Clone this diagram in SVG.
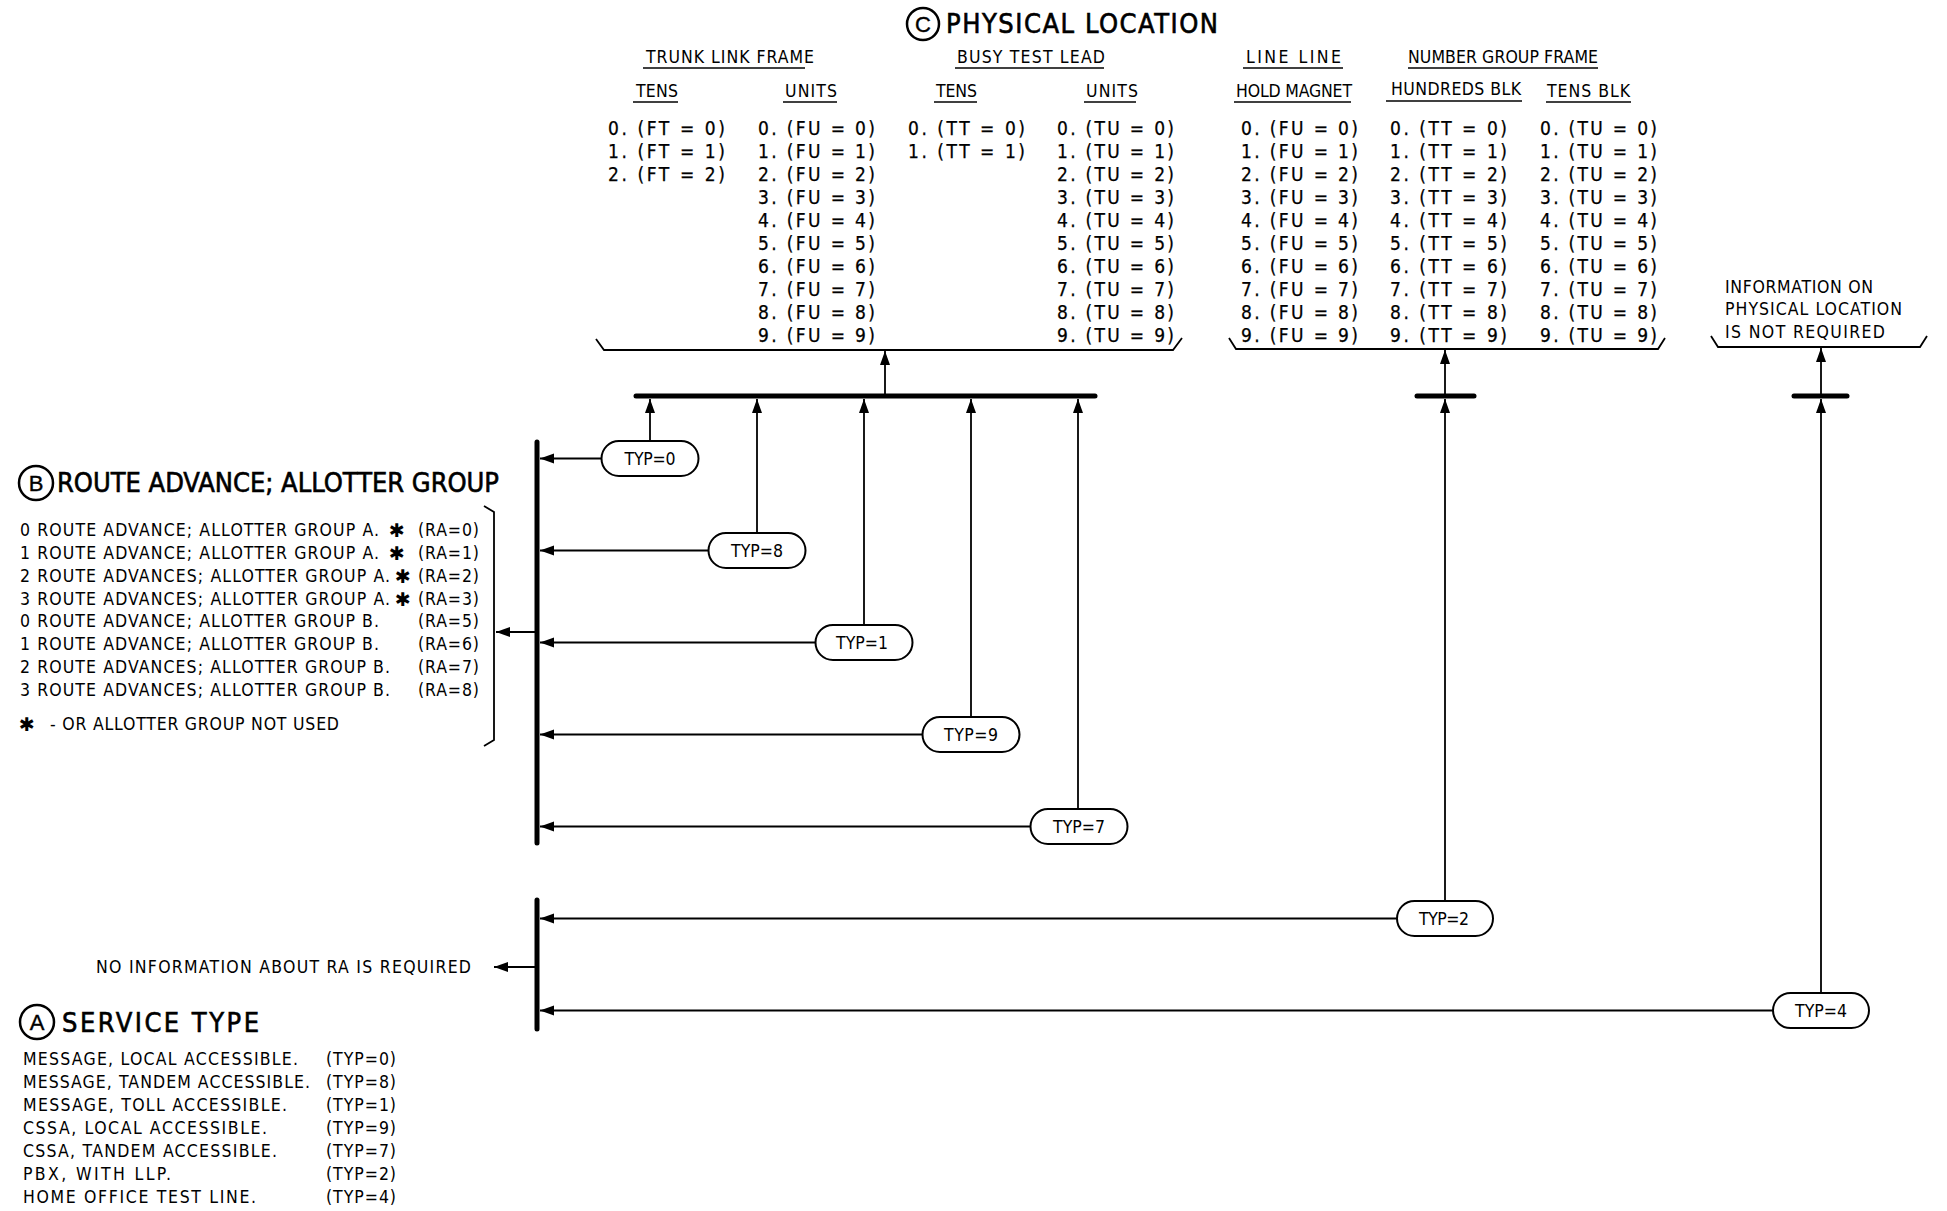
<svg xmlns="http://www.w3.org/2000/svg" width="1947" height="1211" viewBox="0 0 1947 1211">
<style>
text { font-family: "Liberation Sans Narrow", "DejaVu Sans Condensed", "Liberation Sans", Arial, sans-serif; fill: #000; }
.s { font-size: 17.5px; }
.l { font-size: 19px; stroke: #000; stroke-width: 0.25; }
.h { font-size: 27px; stroke: #000; stroke-width: 0.6; }
.cl { font-size: 22px; stroke: #000; stroke-width: 0.4; text-anchor: middle; font-family: "Liberation Sans", Arial, sans-serif; }
.ast { font-family: "DejaVu Sans", sans-serif; font-size: 19px; text-anchor: middle; }
.n rect { fill: #fff; stroke: #000; stroke-width: 2; }
.n text { font-size: 17.5px; text-anchor: middle; }
.c { stroke: #000; stroke-width: 1.8; fill: none; }
.bar { stroke: #000; stroke-width: 5; stroke-linecap: round; fill: none; }
.ul { stroke: #000; stroke-width: 1.6; }
.circ { fill: none; stroke: #000; stroke-width: 2.5; }
</style>
<defs>
<marker id="ah" markerUnits="userSpaceOnUse" markerWidth="15" markerHeight="11" refX="14" refY="5" orient="auto">
<path d="M0,0 L14,5 L0,10 z" fill="#000"/>
</marker>
</defs>
<rect width="1947" height="1211" fill="#fff"/>

<!-- C heading -->
<g id="physical-location">
<circle class="circ" cx="923" cy="24" r="16"/>
<text class="cl" x="923" y="32">C</text>
<text class="h" x="946" y="33" textLength="272">PHYSICAL LOCATION</text>
<g class="s">
<text x="646" y="63" textLength="168">TRUNK LINK FRAME</text>
<text x="957" y="63" textLength="148">BUSY TEST LEAD</text>
<text x="1246" y="63" textLength="95">LINE LINE</text>
<text x="1408" y="63" textLength="190">NUMBER GROUP FRAME</text>
<text x="636" y="97" textLength="42">TENS</text>
<text x="785" y="97" textLength="52">UNITS</text>
<text x="936" y="97" textLength="41">TENS</text>
<text x="1086" y="97" textLength="52">UNITS</text>
<text x="1236" y="97" textLength="116">HOLD MAGNET</text>
<text x="1391" y="95" textLength="130">HUNDREDS BLK</text>
<text x="1547" y="97" textLength="83">TENS BLK</text>
</g>
<g class="ul">
<line x1="643" y1="68" x2="805" y2="68"/>
<line x1="955" y1="68" x2="1104" y2="68"/>
<line x1="1243" y1="68" x2="1343" y2="68"/>
<line x1="1408" y1="68" x2="1598" y2="68"/>
<line x1="633" y1="102" x2="678" y2="102"/>
<line x1="783" y1="102" x2="837" y2="102"/>
<line x1="934" y1="102" x2="977" y2="102"/>
<line x1="1084" y1="102" x2="1136" y2="102"/>
<line x1="1234" y1="102" x2="1351" y2="102"/>
<line x1="1386" y1="101" x2="1522" y2="101"/>
<line x1="1546" y1="102" x2="1631" y2="102"/>
</g>
<g class="l">
<text x="608" y="134.5" textLength="117">0. (FT = 0)</text>
<text x="608" y="157.5" textLength="117">1. (FT = 1)</text>
<text x="608" y="180.5" textLength="117">2. (FT = 2)</text>

<text x="758" y="134.5" textLength="117">0. (FU = 0)</text>
<text x="758" y="157.5" textLength="117">1. (FU = 1)</text>
<text x="758" y="180.5" textLength="117">2. (FU = 2)</text>
<text x="758" y="203.5" textLength="117">3. (FU = 3)</text>
<text x="758" y="226.5" textLength="117">4. (FU = 4)</text>
<text x="758" y="249.5" textLength="117">5. (FU = 5)</text>
<text x="758" y="272.5" textLength="117">6. (FU = 6)</text>
<text x="758" y="295.5" textLength="117">7. (FU = 7)</text>
<text x="758" y="318.5" textLength="117">8. (FU = 8)</text>
<text x="758" y="341.5" textLength="117">9. (FU = 9)</text>

<text x="908" y="134.5" textLength="117">0. (TT = 0)</text>
<text x="908" y="157.5" textLength="117">1. (TT = 1)</text>

<text x="1057" y="134.5" textLength="117">0. (TU = 0)</text>
<text x="1057" y="157.5" textLength="117">1. (TU = 1)</text>
<text x="1057" y="180.5" textLength="117">2. (TU = 2)</text>
<text x="1057" y="203.5" textLength="117">3. (TU = 3)</text>
<text x="1057" y="226.5" textLength="117">4. (TU = 4)</text>
<text x="1057" y="249.5" textLength="117">5. (TU = 5)</text>
<text x="1057" y="272.5" textLength="117">6. (TU = 6)</text>
<text x="1057" y="295.5" textLength="117">7. (TU = 7)</text>
<text x="1057" y="318.5" textLength="117">8. (TU = 8)</text>
<text x="1057" y="341.5" textLength="117">9. (TU = 9)</text>

<text x="1241" y="134.5" textLength="117">0. (FU = 0)</text>
<text x="1241" y="157.5" textLength="117">1. (FU = 1)</text>
<text x="1241" y="180.5" textLength="117">2. (FU = 2)</text>
<text x="1241" y="203.5" textLength="117">3. (FU = 3)</text>
<text x="1241" y="226.5" textLength="117">4. (FU = 4)</text>
<text x="1241" y="249.5" textLength="117">5. (FU = 5)</text>
<text x="1241" y="272.5" textLength="117">6. (FU = 6)</text>
<text x="1241" y="295.5" textLength="117">7. (FU = 7)</text>
<text x="1241" y="318.5" textLength="117">8. (FU = 8)</text>
<text x="1241" y="341.5" textLength="117">9. (FU = 9)</text>

<text x="1390" y="134.5" textLength="117">0. (TT = 0)</text>
<text x="1390" y="157.5" textLength="117">1. (TT = 1)</text>
<text x="1390" y="180.5" textLength="117">2. (TT = 2)</text>
<text x="1390" y="203.5" textLength="117">3. (TT = 3)</text>
<text x="1390" y="226.5" textLength="117">4. (TT = 4)</text>
<text x="1390" y="249.5" textLength="117">5. (TT = 5)</text>
<text x="1390" y="272.5" textLength="117">6. (TT = 6)</text>
<text x="1390" y="295.5" textLength="117">7. (TT = 7)</text>
<text x="1390" y="318.5" textLength="117">8. (TT = 8)</text>
<text x="1390" y="341.5" textLength="117">9. (TT = 9)</text>

<text x="1540" y="134.5" textLength="117">0. (TU = 0)</text>
<text x="1540" y="157.5" textLength="117">1. (TU = 1)</text>
<text x="1540" y="180.5" textLength="117">2. (TU = 2)</text>
<text x="1540" y="203.5" textLength="117">3. (TU = 3)</text>
<text x="1540" y="226.5" textLength="117">4. (TU = 4)</text>
<text x="1540" y="249.5" textLength="117">5. (TU = 5)</text>
<text x="1540" y="272.5" textLength="117">6. (TU = 6)</text>
<text x="1540" y="295.5" textLength="117">7. (TU = 7)</text>
<text x="1540" y="318.5" textLength="117">8. (TU = 8)</text>
<text x="1540" y="341.5" textLength="117">9. (TU = 9)</text>
</g>
<g class="s">
<text x="1725" y="293" textLength="148">INFORMATION ON</text>
<text x="1725" y="315" textLength="177">PHYSICAL LOCATION</text>
<text x="1725" y="338" textLength="160">IS NOT REQUIRED</text>
</g>
<path class="c" d="M596,339 L604,350 L1173,350 L1182,338"/>
<path class="c" d="M1229,338 L1236,349 L1658,349 L1665,338"/>
<path class="c" d="M1711,336 L1718,347 L1920,347 L1927,336"/>
</g>

<!-- B heading -->
<g id="route-advance">
<circle class="circ" cx="36" cy="483" r="17"/>
<text class="cl" x="36" y="491">B</text>
<text class="h" x="57" y="492" textLength="442">ROUTE ADVANCE; ALLOTTER GROUP</text>
<g class="s">
<text x="20" y="536" textLength="359">0 ROUTE ADVANCE; ALLOTTER GROUP A.</text>
<text x="20" y="559" textLength="359">1 ROUTE ADVANCE; ALLOTTER GROUP A.</text>
<text x="20" y="582" textLength="370">2 ROUTE ADVANCES; ALLOTTER GROUP A.</text>
<text x="20" y="605" textLength="370">3 ROUTE ADVANCES; ALLOTTER GROUP A.</text>
<text x="20" y="627" textLength="359">0 ROUTE ADVANCE; ALLOTTER GROUP B.</text>
<text x="20" y="650" textLength="359">1 ROUTE ADVANCE; ALLOTTER GROUP B.</text>
<text x="20" y="673" textLength="370">2 ROUTE ADVANCES; ALLOTTER GROUP B.</text>
<text x="20" y="696" textLength="370">3 ROUTE ADVANCES; ALLOTTER GROUP B.</text>
<text class="ast" x="397" y="537">✱</text>
<text class="ast" x="397" y="560">✱</text>
<text class="ast" x="403" y="583">✱</text>
<text class="ast" x="403" y="606">✱</text>
<text x="418" y="536" textLength="61">(RA=0)</text>
<text x="418" y="559" textLength="61">(RA=1)</text>
<text x="418" y="582" textLength="61">(RA=2)</text>
<text x="418" y="605" textLength="61">(RA=3)</text>
<text x="418" y="627" textLength="61">(RA=5)</text>
<text x="418" y="650" textLength="61">(RA=6)</text>
<text x="418" y="673" textLength="61">(RA=7)</text>
<text x="418" y="696" textLength="61">(RA=8)</text>
<text class="ast" x="27" y="731">✱</text>
<text x="50" y="730" textLength="289">- OR ALLOTTER GROUP NOT USED</text>
</g>
<path class="c" d="M484,506 L494,512 L494,740 L484,746"/>
</g>

<g id="no-ra-info">
<text class="s" x="96" y="973" textLength="375">NO INFORMATION ABOUT RA IS REQUIRED</text>
</g>

<!-- A heading -->
<g id="service-type">
<circle class="circ" cx="37" cy="1022" r="17"/>
<text class="cl" x="37" y="1030">A</text>
<text class="h" x="62" y="1032" textLength="197">SERVICE TYPE</text>
<g class="s">
<text x="23" y="1065" textLength="275">MESSAGE, LOCAL ACCESSIBLE.</text>
<text x="23" y="1088" textLength="287">MESSAGE, TANDEM ACCESSIBLE.</text>
<text x="23" y="1111" textLength="264">MESSAGE, TOLL ACCESSIBLE.</text>
<text x="23" y="1134" textLength="244">CSSA, LOCAL ACCESSIBLE.</text>
<text x="23" y="1157" textLength="254">CSSA, TANDEM ACCESSIBLE.</text>
<text x="23" y="1180" textLength="148">PBX, WITH LLP.</text>
<text x="23" y="1203" textLength="233">HOME OFFICE TEST LINE.</text>
<text x="326" y="1065" textLength="70">(TYP=0)</text>
<text x="326" y="1088" textLength="70">(TYP=8)</text>
<text x="326" y="1111" textLength="70">(TYP=1)</text>
<text x="326" y="1134" textLength="70">(TYP=9)</text>
<text x="326" y="1157" textLength="70">(TYP=7)</text>
<text x="326" y="1180" textLength="70">(TYP=2)</text>
<text x="326" y="1203" textLength="70">(TYP=4)</text>
</g>
</g>

<!-- connectors -->
<g id="connectors">
<line class="bar" x1="636" y1="396" x2="1095" y2="396"/>
<line class="bar" x1="1417" y1="396" x2="1474" y2="396"/>
<line class="bar" x1="1794" y1="396" x2="1847" y2="396"/>
<line class="bar" x1="537" y1="442" x2="537" y2="843"/>
<line class="bar" x1="537" y1="900" x2="537" y2="1029"/>

<line class="c" x1="885" y1="394" x2="885" y2="351" marker-end="url(#ah)"/>
<line class="c" x1="1445" y1="394" x2="1445" y2="350" marker-end="url(#ah)"/>
<line class="c" x1="1821" y1="394" x2="1821" y2="348" marker-end="url(#ah)"/>

<line class="c" x1="650" y1="441" x2="650" y2="399" marker-end="url(#ah)"/>
<line class="c" x1="757" y1="533" x2="757" y2="399" marker-end="url(#ah)"/>
<line class="c" x1="864" y1="625" x2="864" y2="399" marker-end="url(#ah)"/>
<line class="c" x1="971" y1="717" x2="971" y2="399" marker-end="url(#ah)"/>
<line class="c" x1="1078" y1="809" x2="1078" y2="399" marker-end="url(#ah)"/>
<line class="c" x1="1445" y1="901" x2="1445" y2="399" marker-end="url(#ah)"/>
<line class="c" x1="1821" y1="993" x2="1821" y2="399" marker-end="url(#ah)"/>

<line class="c" x1="602" y1="458.5" x2="540" y2="458.5" marker-end="url(#ah)"/>
<line class="c" x1="709" y1="550.5" x2="540" y2="550.5" marker-end="url(#ah)"/>
<line class="c" x1="816" y1="642.5" x2="540" y2="642.5" marker-end="url(#ah)"/>
<line class="c" x1="923" y1="734.5" x2="540" y2="734.5" marker-end="url(#ah)"/>
<line class="c" x1="1031" y1="826.5" x2="540" y2="826.5" marker-end="url(#ah)"/>
<line class="c" x1="1397" y1="918.5" x2="540" y2="918.5" marker-end="url(#ah)"/>
<line class="c" x1="1773" y1="1010.5" x2="540" y2="1010.5" marker-end="url(#ah)"/>

<line class="c" x1="535" y1="632" x2="496" y2="632" marker-end="url(#ah)"/>
<line class="c" x1="535" y1="967" x2="494" y2="967" marker-end="url(#ah)"/>
</g>

<!-- nodes -->
<g id="typ0" class="n"><rect x="601.5" y="441" width="97" height="35" rx="17.5"/><text x="650" y="464.5" textLength="51">TYP=0</text></g>
<g id="typ8" class="n"><rect x="708.5" y="533" width="97" height="35" rx="17.5"/><text x="757" y="556.5" textLength="52">TYP=8</text></g>
<g id="typ1" class="n"><rect x="815.5" y="625" width="97" height="35" rx="17.5"/><text x="862" y="648.5" textLength="52">TYP=1</text></g>
<g id="typ9" class="n"><rect x="922.5" y="717" width="97" height="35" rx="17.5"/><text x="971" y="740.5" textLength="54">TYP=9</text></g>
<g id="typ7" class="n"><rect x="1030.5" y="809" width="97" height="35" rx="17.5"/><text x="1079" y="832.5" textLength="52">TYP=7</text></g>
<g id="typ2" class="n"><rect x="1397" y="901" width="96" height="35" rx="17.5"/><text x="1444" y="924.5" textLength="50">TYP=2</text></g>
<g id="typ4" class="n"><rect x="1773" y="993" width="96" height="35" rx="17.5"/><text x="1821" y="1016.5" textLength="52">TYP=4</text></g>
</svg>
